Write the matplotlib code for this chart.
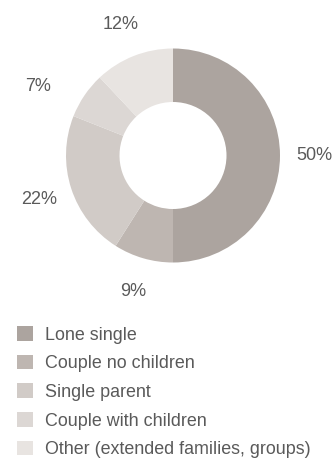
import numpy as np
import matplotlib.pyplot as plt
from matplotlib.patches import Patch

# household types, in drawing order (clockwise from 12 o'clock)
categories = ['Lone single', 'Couple no children', 'Single parent',
              'Couple with children', 'Other (extended families, groups)']
shares = [50, 9, 22, 7, 12]
colours = ['#aca49f', '#beb6b1', '#d1cbc7', '#dcd7d4', '#e8e4e1']

W, H = 336, 461
fig = plt.figure(figsize=(W / 100, H / 100), dpi=100)
plt.rcParams['font.family'] = ['Liberation Sans', 'DejaVu Sans']
txt_col = '#5a5a5a'

# donut: centre ~(173,155) px, outer radius ~107 px
cx, cy, r = 173, 155.5, 107
ax = fig.add_axes([(cx - r) / W, (H - cy - r) / H, 2 * r / W, 2 * r / H])
wedges, texts = ax.pie(shares, colors=colours, startangle=90, counterclock=False,
                       labels=[f'{v}%' for v in shares], labeldistance=1.32,
                       wedgeprops=dict(width=0.5, linewidth=0),
                       textprops=dict(color=txt_col, fontsize=13))
for t in texts:
    t.set_horizontalalignment('center')
    t.set_verticalalignment('center')

# the small 7% label sits a bit further out/lower to clear the 12% one
w = wedges[3]
ang = np.deg2rad((w.theta1 + w.theta2) / 2 + 7)
texts[3].set_position((1.42 * np.cos(ang), 1.42 * np.sin(ang)))

ax.set_xlim(-1, 1)
ax.set_ylim(-1, 1)
ax.set_aspect('equal')

handles = [Patch(facecolor=c, edgecolor='none') for c in colours]
leg = fig.legend(handles, categories, loc='upper left',
                 bbox_to_anchor=(17 / W, 1 - 326 / H), frameon=False,
                 fontsize=12.9, handlelength=0.89, handleheight=0.89,
                 handletextpad=0.67, labelspacing=0.62, borderpad=0,
                 borderaxespad=0)
for t in leg.get_texts():
    t.set_color(txt_col)

fig.savefig('out.png', dpi=100)
